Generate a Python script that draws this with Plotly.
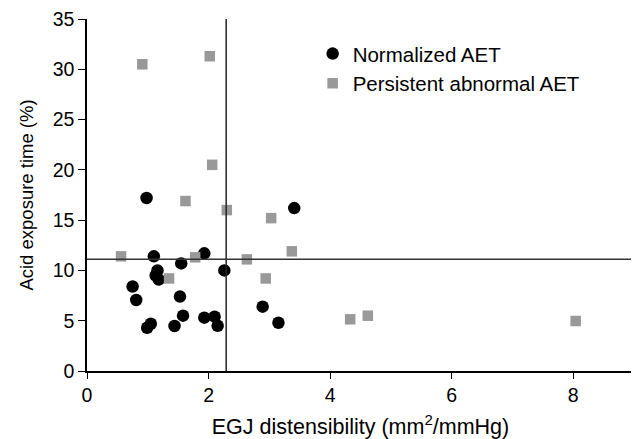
import plotly.graph_objects as go

norm_x = [0.98, 3.41, 1.10, 1.93, 1.55, 1.16, 1.13, 1.18, 2.26, 0.75, 0.81, 1.53, 2.89, 3.15, 1.58, 1.93, 2.10, 2.15, 1.44, 1.05, 0.99]
norm_y = [17.2, 16.2, 11.4, 11.7, 10.7, 10.0, 9.5, 9.1, 10.0, 8.4, 7.06, 7.4, 6.4, 4.8, 5.5, 5.3, 5.4, 4.5, 4.47, 4.7, 4.3]

pers_x = [2.06, 1.62, 2.30, 3.03, 3.37, 0.56, 1.78, 2.63, 2.94, 1.35, 0.91, 2.02, 4.33, 4.62, 8.04]
pers_y = [20.5, 16.9, 16.0, 15.2, 11.9, 11.4, 11.3, 11.1, 9.2, 9.2, 30.5, 31.3, 5.14, 5.5, 4.97]

x_cut = 2.29
y_cut = 11.1

fig = go.Figure()
fig.add_trace(go.Scatter(x=norm_x, y=norm_y, mode="markers", name="Normalized AET",
                         marker=dict(symbol="circle", size=12.5, color="black")))
fig.add_trace(go.Scatter(x=pers_x, y=pers_y, mode="markers", name="Persistent abnormal AET",
                         marker=dict(symbol="square", size=10.5, color="#999999")))

fig.add_shape(type="line", x0=x_cut, x1=x_cut, y0=0, y1=35, xref="x", yref="y",
              line=dict(color="#222222", width=1.5))
fig.add_shape(type="line", x0=0, x1=9, y0=y_cut, y1=y_cut, xref="x", yref="y",
              line=dict(color="#333333", width=1.5))

tick_font = dict(family="Liberation Sans, Arial", size=19.5, color="black")
fig.update_layout(
    width=631, height=431,
    margin=dict(l=79, r=5, t=11, b=68),
    plot_bgcolor="white", paper_bgcolor="white",
    font=dict(family="Liberation Sans, Arial", size=16, color="black"),
    showlegend=True,
    legend=dict(x=0.4125, y=0.958, xanchor="left", yanchor="top", bgcolor="rgba(0,0,0,0)",
                font=dict(size=20.5), itemsizing="trace", tracegroupgap=0),
    xaxis=dict(range=[0, 9], tickvals=[0, 2, 4, 6, 8], showgrid=False, zeroline=False,
               showline=True, linecolor="black", linewidth=1.5, ticks="outside", ticklen=6,
               tickcolor="black", tickfont=tick_font, automargin=False, ticklabeloverflow="allow",
               title=dict(text="EGJ distensibility (mm<sup>2</sup>/mmHg)", font=dict(size=21.5), standoff=14)),
    yaxis=dict(range=[0, 35], tickvals=[0, 5, 10, 15, 20, 25, 30, 35], showgrid=False, zeroline=False,
               showline=True, linecolor="black", linewidth=1.5, ticks="outside", ticklen=7,
               tickcolor="black", tickfont=tick_font, automargin=False, ticklabeloverflow="allow",
               title=dict(text="Acid exposure time (%)", font=dict(size=18.5), standoff=14)),
)

fig.write_html("out.html")
